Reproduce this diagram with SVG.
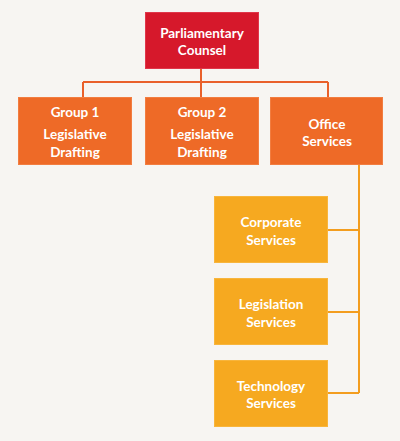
<svg xmlns="http://www.w3.org/2000/svg" width="400" height="441" viewBox="0 0 400 441">
<style>
.t{font-family:"Lato","Liberation Sans",sans-serif;font-weight:bold;font-size:13.5px;fill:#ffffff;text-anchor:middle}
.red{fill:#d6182b;stroke:#e0364a;stroke-width:1}
.org{fill:#ee6a27;stroke:#f27d40;stroke-width:1}
.yel{fill:#f6a920;stroke:#f8b53c;stroke-width:1}
.c1{fill:none;stroke:#e9602a;stroke-width:2}
.c2{fill:none;stroke:#f39d1f;stroke-width:2}
</style>
<rect width="400" height="441" fill="#f7f5f2"/>
<g id="connectors">
<path class="c1" d="M201 69V82M83 82H328M83 82V97M201 82V97M328 82V97"/>
<path class="c2" d="M359 164V393M328 230H359M328 312H359M328 393H359"/>
</g>
<g id="parliamentary-counsel">
<rect class="red" x="145.5" y="12.5" width="113" height="56"/>
<text class="t" x="202" y="38">Parliamentary</text>
<text class="t" x="202" y="55">Counsel</text>
</g>
<g id="group1">
<rect class="org" x="18.5" y="97.5" width="113" height="67"/>
<text class="t" x="75" y="117">Group 1</text>
<text class="t" x="75" y="139">Legislative</text>
<text class="t" x="75" y="157">Drafting</text>
</g>
<g id="group2">
<rect class="org" x="145.5" y="97.5" width="113" height="67"/>
<text class="t" x="202" y="117">Group 2</text>
<text class="t" x="202" y="139">Legislative</text>
<text class="t" x="202" y="157">Drafting</text>
</g>
<g id="office-services">
<rect class="org" x="270.5" y="97.5" width="112" height="67"/>
<text class="t" x="327" y="129">Office</text>
<text class="t" x="327" y="146">Services</text>
</g>
<g id="corporate-services">
<rect class="yel" x="214.5" y="196.5" width="113" height="66"/>
<text class="t" x="271" y="227">Corporate</text>
<text class="t" x="271" y="245">Services</text>
</g>
<g id="legislation-services">
<rect class="yel" x="214.5" y="278.5" width="113" height="66"/>
<text class="t" x="271" y="309">Legislation</text>
<text class="t" x="271" y="327">Services</text>
</g>
<g id="technology-services">
<rect class="yel" x="214.5" y="360.5" width="113" height="66"/>
<text class="t" x="271" y="391">Technology</text>
<text class="t" x="271" y="408">Services</text>
</g>
</svg>
